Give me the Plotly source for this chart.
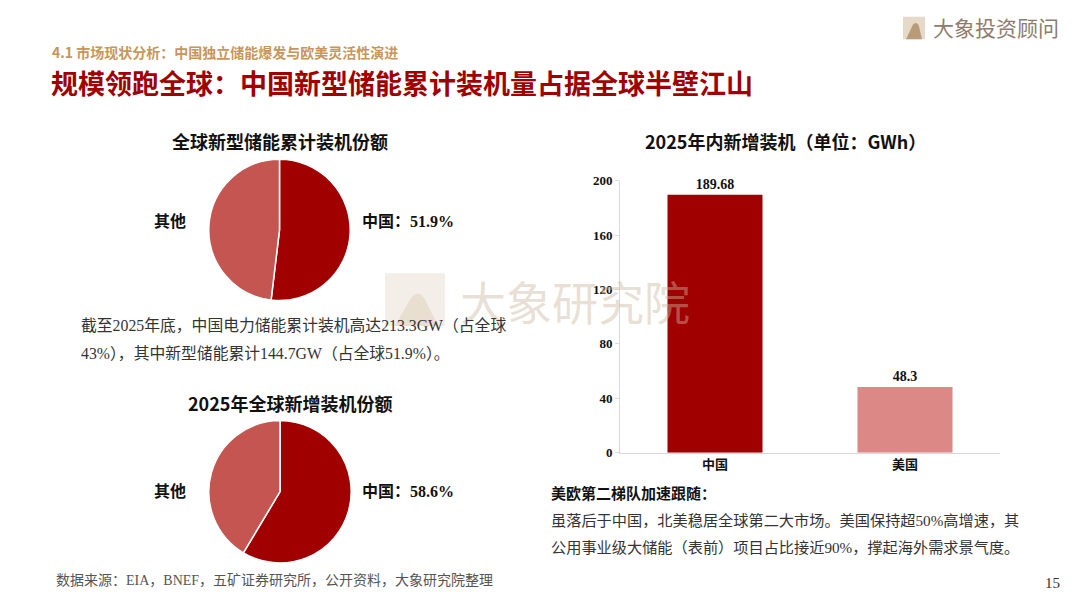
import plotly.graph_objects as go

W, H = 1080, 608

def px(x):
    return x / W

def py(y):
    return 1 - y / H

SANS = "Noto Sans CJK SC"
SERIF = "Liberation Serif, Noto Sans CJK SC"

# ---------------- data ----------------
pie1_labels = ["中国", "其他"]
pie1_values = [51.9, 48.1]
pie2_labels = ["中国", "其他"]
pie2_values = [58.6, 41.4]
bar_categories = ["中国", "美国"]
bar_values = [189.68, 48.3]
y_ticks = [0, 40, 80, 120, 160, 200]

DARK_RED = "#A00000"
PIE_OTHER = "#C55550"
BAR_US = "#DB8886"

fig = go.Figure()

# pies
fig.add_trace(go.Pie(
    labels=pie1_labels, values=pie1_values, sort=False, direction="clockwise",
    rotation=0, textinfo="none", hoverinfo="label+percent",
    marker=dict(colors=[DARK_RED, PIE_OTHER], line=dict(color="white", width=1.5)),
    domain=dict(x=[px(207), px(352)], y=[py(301), py(156)]),
    showlegend=False,
))
fig.add_trace(go.Pie(
    labels=pie2_labels, values=pie2_values, sort=False, direction="clockwise",
    rotation=0, textinfo="none", hoverinfo="label+percent",
    marker=dict(colors=[DARK_RED, PIE_OTHER], line=dict(color="white", width=1.5)),
    domain=dict(x=[px(207), px(353)], y=[py(570), py(424)]),
    showlegend=False,
))

# bar chart
fig.add_trace(go.Bar(
    x=bar_categories, y=bar_values, width=0.5,
    marker=dict(color=[DARK_RED, BAR_US], line=dict(width=0)),
    text=[f"{v:g}" for v in bar_values], textposition="outside",
    textfont=dict(family=SERIF, size=14, color="#111", weight=700),
    cliponaxis=False, showlegend=False,
))

fig.update_layout(
    width=W, height=H, autosize=False,
    margin=dict(l=0, r=0, t=0, b=0),
    paper_bgcolor="white", plot_bgcolor="white",
    xaxis=dict(
        domain=[px(620), px(1000)], showgrid=False, zeroline=False,
        showline=True, linecolor="#D9D9D9", linewidth=1,
        ticks="", tickfont=dict(family=SERIF, size=13, color="#111", weight=700),
        fixedrange=True,
    ),
    yaxis=dict(
        domain=[py(457), py(178)], range=[0, 200], tickvals=y_ticks,
        showgrid=False, zeroline=False, showline=True, linecolor="#D9D9D9",
        linewidth=1, ticks="outside", ticklen=4, tickcolor="#D9D9D9",
        tickfont=dict(family=SERIF, size=13, color="#111", weight=700),
        fixedrange=True,
    ),
)

ann = []

def text(x, y, s, size, color="#222", family=SANS, xanchor="left", weight=400, opacity=1):
    ann.append(dict(x=px(x), y=py(y), xref="paper", yref="paper", text=s,
                    showarrow=False, xanchor=xanchor, yanchor="middle",
                    font=dict(family=family, size=size, color=color, weight=weight),
                    opacity=opacity))

# watermark (drawn first)
text(575, 305, "大象研究院", 46, color="rgba(205,185,160,0.45)", family=SERIF, xanchor="center")

# header
text(50, 46, "4.1 市场现状分析：中国独立储能爆发与欧美灵活性演进", 14, color="#C8965A", weight=700)
text(49, 77, "规模领跑全球：中国新型储能累计装机量占据全球半壁江山", 27, color=DARK_RED, weight=700)
text(931, 21, "大象投资顾问", 21, color="#8E7C6C")

# pie titles
text(280, 137, "全球新型储能累计装机份额", 18, color="#111", weight=700, xanchor="center")
text(290, 406, "2025年全球新增装机份额", 18, color="#111", weight=700, xanchor="center")

# pie labels
text(188, 220, "其他", 16, color="#111", family=SERIF, weight=700, xanchor="right")
text(360, 220, f"中国：{pie1_values[0]}%", 16, color="#111", family=SERIF, weight=700)
text(188, 497, "其他", 16, color="#111", family=SERIF, weight=700, xanchor="right")
text(360, 497, f"中国：{pie2_values[0]}%", 16, color="#111", family=SERIF, weight=700)

# paragraph left
text(79, 327, "截至2025年底，中国电力储能累计装机高达213.3GW（占全球", 15.8, color="#333", family=SERIF)
text(79, 355, "43%），其中新型储能累计144.7GW（占全球51.9%）。", 15.8, color="#333", family=SERIF)

# bar title
text(785, 137, "2025年内新增装机（单位：GWh）", 18, color="#111", weight=700, xanchor="center")

# right text
text(549, 498, "美欧第二梯队加速跟随：", 15, color="#111", weight=700)
text(549, 527, "虽落后于中国，北美稳居全球第二大市场。美国保持超50%高增速，其", 15.2, color="#333", family=SERIF)
text(549, 554, "公用事业级大储能（表前）项目占比接近90%，撑起海外需求景气度。", 15.2, color="#333", family=SERIF)

# footer
text(54, 588, "数据来源：EIA，BNEF，五矿证券研究所，公开资料，大象研究院整理", 14, color="#555", family=SERIF)
text(1062, 591, "15", 15, color="#333", family=SERIF, xanchor="right")

fig.update_layout(annotations=ann)

shapes = [
    # top-right logo
    dict(type="rect", xref="paper", yref="paper", x0=px(903), x1=px(925), y0=py(33), y1=py(10),
         fillcolor="#E6D9C8", line=dict(width=0), layer="above"),
    dict(type="path", xref="paper", yref="paper",
         path=f"M {px(906)} {py(33)} L {px(913)} {py(18)} Q {px(917)} {py(14)} {px(919)} {py(20)} L {px(922)} {py(33)} Z",
         fillcolor="#B99B78", line=dict(width=0), layer="above"),
    # watermark logo square
    dict(type="rect", xref="paper", yref="paper", x0=px(385), x1=px(445), y0=py(327), y1=py(273),
         fillcolor="rgba(225,212,195,0.4)", line=dict(width=0), layer="below"),
    dict(type="path", xref="paper", yref="paper",
         path=f"M {px(395)} {py(327)} L {px(410)} {py(300)} Q {px(418)} {py(288)} {px(425)} {py(300)} L {px(438)} {py(327)} Z",
         fillcolor="rgba(215,195,170,0.35)", line=dict(width=0), layer="below"),
]
fig.update_layout(shapes=shapes)

fig.write_html(
    "out.html",
    config={"displayModeBar": False},
    post_script="document.body.style.margin='0';document.body.style.overflow='hidden';",
)
